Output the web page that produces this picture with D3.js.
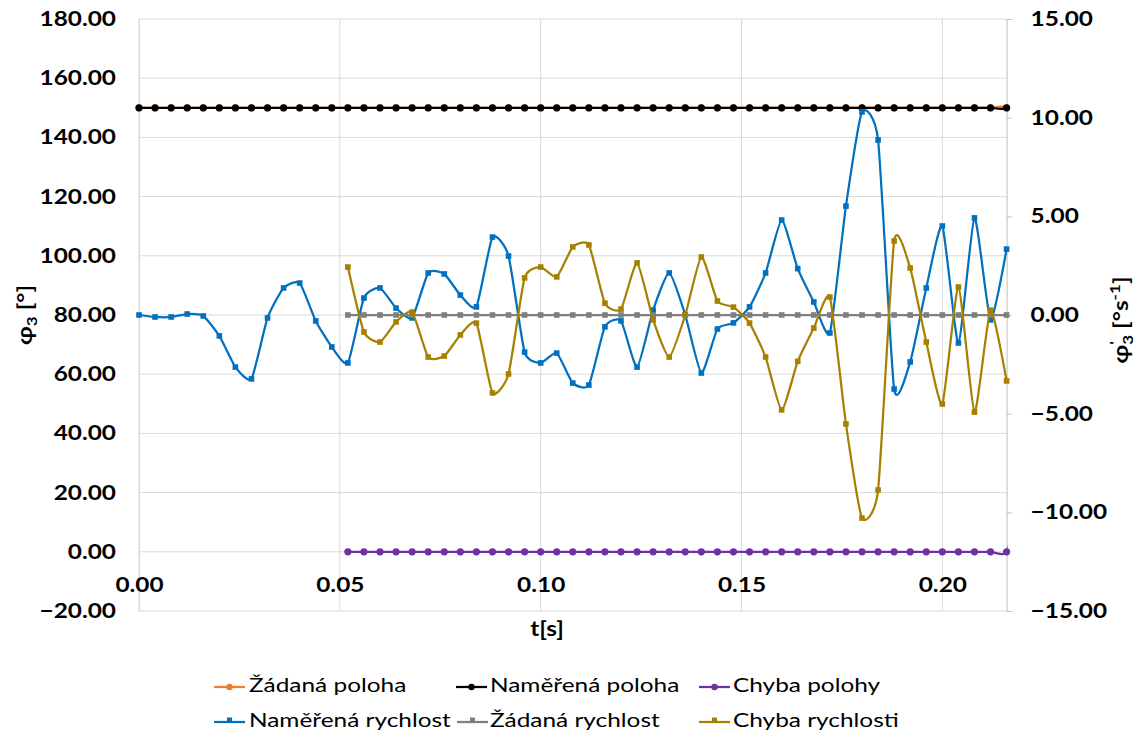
<!DOCTYPE html>
<html>
<head>
<meta charset="utf-8">
<script src="https://cdn.jsdelivr.net/npm/d3@7"></script>
<style>
  html, body { margin: 0; padding: 0; background: #fff; }
  svg text { font-family: "Lato", "Liberation Sans", sans-serif; }
</style>
</head>
<body>
<svg id="chart" width="1145" height="744"></svg>
<script>
// ---------------- DATA ----------------
const timeValues = [0.000,0.004,0.008,0.012,0.016,0.020,0.024,0.028,0.032,0.036,
  0.040,0.044,0.048,0.052,0.056,0.060,0.064,0.068,0.072,0.076,
  0.080,0.084,0.088,0.092,0.096,0.100,0.104,0.108,0.112,0.116,
  0.120,0.124,0.128,0.132,0.136,0.140,0.144,0.148,0.152,0.156,
  0.160,0.164,0.168,0.172,0.176,0.180,0.184,0.188,0.192,0.196,
  0.200,0.204,0.208,0.212,0.216,0.220];

// position series (left axis, degrees)
const zadanaPoloha = [150,150,150,150,150,150,150,150,150,150,
  150,150,150,150,150,150,150,150,150,150,
  150,150,150,150,150,150,150,150,150,150,
  150,150,150,150,150,150,150,150,150,150,
  150,150,150,150,150,150,150,150,150,150,
  150,150,150,150,150,140];
const namerenaPoloha = [150,150,150,150,150,150,150,150,150,150,
  150,150,150,150,150,150,150,150,150,150,
  150,150,150,150,150,150,150,150,150,150,
  150,150,150,150,150,150,150,150,150,150,
  150,150,150,150,150,150,150,150,150,150,
  150,150,150,150,150,160];
const chybaPolohy = [null,null,null,null,null,null,null,null,null,null,
  null,null,null,0,0,0,0,0,0,0,
  0,0,0,0,0,0,0,0,0,0,
  0,0,0,0,0,0,0,0,0,0,
  0,0,0,0,0,0,0,0,0,0,
  0,0,0,0,0,20];

// velocity series (right axis, deg/s)
const namerenaRychlost = [0,-0.1,-0.1,0.05,-0.05,-1.06,-2.64,-3.24,-0.15,1.37,
  1.62,-0.3,-1.62,-2.43,0.86,1.37,0.35,-0.15,2.13,2.08,
  1.01,0.41,3.95,2.99,-1.88,-2.43,-1.93,-3.45,-3.55,-0.6,
  -0.3,-2.64,0.25,2.13,0.0,-2.94,-0.71,-0.4,0.41,2.13,
  4.81,2.35,0.66,-0.91,5.52,10.29,8.87,-3.75,-2.38,1.37,
  4.51,-1.42,4.92,-0.25,3.34,null];
const zadanaRychlost = [null,null,null,null,null,null,null,null,null,null,
  null,null,null,0,0,0,0,0,0,0,
  0,0,0,0,0,0,0,0,0,0,
  0,0,0,0,0,0,0,0,0,0,
  0,0,0,0,0,0,0,0,0,0,
  0,0,0,0,0,null];
const chybaRychlosti = [null,null,null,null,null,null,null,null,null,null,
  null,null,null,2.43,-0.86,-1.37,-0.35,0.15,-2.13,-2.08,
  -1.01,-0.41,-3.95,-2.99,1.88,2.43,1.93,3.45,3.55,0.6,
  0.3,2.64,-0.25,-2.13,0.0,2.94,0.71,0.4,-0.41,-2.13,
  -4.81,-2.35,-0.66,0.91,-5.52,-10.29,-8.87,3.75,2.38,-1.37,
  -4.51,1.42,-4.92,0.25,-3.34,null];

const leftTicks = [-20,0,20,40,60,80,100,120,140,160,180];
const rightTicks = [-15,-10,-5,0,5,10,15];
const xTicks = [0,0.05,0.10,0.15,0.20];

const seriesNames = ["Žádaná poloha","Naměřená poloha","Chyba polohy",
                     "Naměřená rychlost","Žádaná rychlost","Chyba rychlosti"];

// ---------------- LAYOUT ----------------
const svg = d3.select("#chart");
const L = 139, R = 1006.6, T = 19, B = 611;
const xMax = 0.216;
const K = 1.22; // horizontal text stretch

const x = d3.scaleLinear().domain([0, xMax]).range([L, R]);
const yL = d3.scaleLinear().domain([-20, 180]).range([B, T]);
const yR = d3.scaleLinear().domain([-15, 15]).range([B, T]);

const gridColor = "#d9d9d9";
const fmt = d3.format(".2f");

// gridlines
svg.append("g").selectAll("line").data(leftTicks).join("line")
  .attr("x1", L).attr("x2", R)
  .attr("y1", d => yL(d)).attr("y2", d => yL(d))
  .attr("stroke", gridColor).attr("stroke-width", 1);
svg.append("g").selectAll("line").data(xTicks).join("line")
  .attr("x1", d => x(d)).attr("x2", d => x(d))
  .attr("y1", T).attr("y2", B)
  .attr("stroke", gridColor).attr("stroke-width", 1);

function stretchAxisText(sel) {
  sel.each(function () {
    const t = d3.select(this);
    const ox = +t.attr("x") || 0;
    t.attr("x", ox / K).attr("transform", `scale(${K},1)`);
  });
}

// left axis
const gL = svg.append("g").attr("transform", `translate(${L},0)`)
  .call(d3.axisLeft(yL).tickValues(leftTicks).tickFormat(fmt).tickSize(0).tickPadding(23));
gL.select(".domain").attr("stroke", gridColor);
gL.selectAll("text").attr("font-size", 20).attr("font-weight", "bold").attr("fill", "#000")
  .style("font-family", "Lato");
stretchAxisText(gL.selectAll("text"));

// right axis
const gR = svg.append("g").attr("transform", `translate(${R},0)`)
  .call(d3.axisRight(yR).tickValues(rightTicks).tickFormat(fmt).tickSize(5).tickPadding(19));
gR.select(".domain").attr("stroke", "#bfbfbf");
gR.selectAll(".tick line").attr("stroke", "#bfbfbf");
gR.selectAll("text").attr("font-size", 20).attr("font-weight", "bold").attr("fill", "#000")
  .style("font-family", "Lato");
stretchAxisText(gR.selectAll("text"));

// bottom axis (crosses at 0 on left axis)
const gB = svg.append("g").attr("transform", `translate(0,${yL(0)})`)
  .call(d3.axisBottom(x).tickValues(xTicks).tickFormat(fmt).tickSize(0));
gB.select(".domain").remove();
gB.selectAll("text").attr("font-size", 20).attr("font-weight", "bold").attr("fill", "#000")
  .attr("y", 33).attr("dy", "0.35em").style("font-family", "Lato");
stretchAxisText(gB.selectAll("text"));

// axis titles
svg.append("text").attr("transform", `translate(547,631) scale(${K},1)`)
  .attr("text-anchor", "middle").attr("dominant-baseline", "middle")
  .attr("font-size", 20).attr("font-weight", "bold").text("t[s]");

const lt = svg.append("text")
  .attr("transform", `translate(32,315) rotate(-90) scale(${K},1)`)
  .attr("text-anchor", "middle").attr("font-size", 20).attr("font-weight", "bold");
lt.append("tspan").text("φ");
lt.append("tspan").attr("font-size", 14).attr("dy", 5).text("3");
lt.append("tspan").attr("dy", -5).text(" [°]");

const rt = svg.append("text")
  .attr("transform", `translate(1128,320) rotate(-90) scale(${K},1)`)
  .attr("text-anchor", "middle").attr("font-size", 20).attr("font-weight", "bold");
rt.append("tspan").text("φ");
rt.append("tspan").attr("font-size", 14).attr("dy", -8).text("'");
rt.append("tspan").attr("font-size", 14).attr("dy", 13).attr("dx", -3).text("3");
rt.append("tspan").attr("dy", -5).text(" [°s");
rt.append("tspan").attr("font-size", 14).attr("dy", -8).text("-1");
rt.append("tspan").attr("dy", 8).text("]");

// clip for lines
svg.append("defs").append("clipPath").attr("id", "plotClip")
  .append("rect").attr("x", L - 2).attr("y", T - 10).attr("width", R - L + 3).attr("height", B - T + 20);

const series = [
  { name: seriesNames[0], vals: zadanaPoloha, y: yL, color: "#ED7D31", marker: "circle" },
  { name: seriesNames[1], vals: namerenaPoloha, y: yL, color: "#000000", marker: "circle" },
  { name: seriesNames[2], vals: chybaPolohy, y: yL, color: "#7030A0", marker: "circle" },
  { name: seriesNames[3], vals: namerenaRychlost, y: yR, color: "#0070C0", marker: "square" },
  { name: seriesNames[4], vals: zadanaRychlost, y: yR, color: "#7F7F7F", marker: "square" },
  { name: seriesNames[5], vals: chybaRychlosti, y: yR, color: "#A68000", marker: "square" }
];

series.forEach(s => {
  const pts = timeValues.map((t, i) => ({ t, v: s.vals[i] })).filter(d => d.v != null);
  const line = d3.line().x(d => x(d.t)).y(d => s.y(d.v)).curve(d3.curveCardinal.tension(0.45));
  svg.append("path").datum(pts).attr("d", line)
    .attr("fill", "none").attr("stroke", s.color).attr("stroke-width", 2.25)
    .attr("clip-path", "url(#plotClip)");
  const mpts = pts.filter(d => d.t <= xMax + 1e-9);
  if (s.marker === "circle") {
    svg.append("g").selectAll("circle").data(mpts).join("circle")
      .attr("cx", d => x(d.t)).attr("cy", d => s.y(d.v)).attr("r", 3.6).attr("fill", s.color);
  } else {
    svg.append("g").selectAll("rect").data(mpts).join("rect")
      .attr("x", d => x(d.t) - 2.8).attr("y", d => s.y(d.v) - 2.8)
      .attr("width", 5.6).attr("height", 5.6).attr("fill", s.color);
  }
});

// legend
const legendPos = [
  { lx: 214, tx: 249, y: 687 }, { lx: 456, tx: 490, y: 687 }, { lx: 699, tx: 733, y: 687 },
  { lx: 214, tx: 249, y: 722 }, { lx: 457, tx: 490, y: 722 }, { lx: 699, tx: 733, y: 722 }
];
series.forEach((s, i) => {
  const p = legendPos[i];
  const g = svg.append("g");
  g.append("line").attr("x1", p.lx).attr("x2", p.lx + 31).attr("y1", p.y).attr("y2", p.y)
    .attr("stroke", s.color).attr("stroke-width", 2.25);
  if (s.marker === "circle") {
    g.append("circle").attr("cx", p.lx + 15.5).attr("cy", p.y).attr("r", 3.2).attr("fill", s.color);
  } else {
    g.append("rect").attr("x", p.lx + 13).attr("y", p.y - 4.5).attr("width", 5).attr("height", 5).attr("fill", s.color);
  }
  g.append("text").attr("transform", `translate(${p.tx},${p.y}) scale(${K},1)`)
    .attr("dominant-baseline", "middle")
    .attr("font-size", 20).attr("fill", "#000").text(s.name);
});
</script>
</body>
</html>
